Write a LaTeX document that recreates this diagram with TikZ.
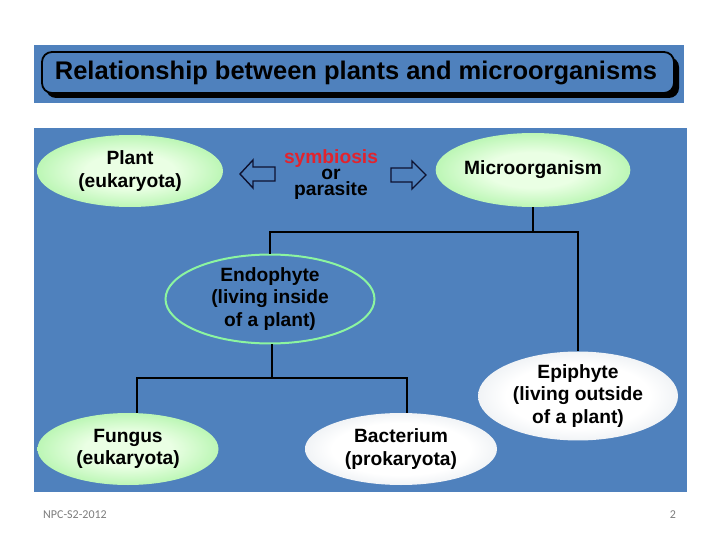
\documentclass[tikz,border=0pt]{standalone}
\usepackage{fontspec}
\setmainfont{Liberation Sans}
\newfontfamily\footfont{Carlito}
\usepackage{tikz}
\usetikzlibrary{positioning, shapes.geometric, shadings}
\definecolor{slide}{RGB}{79, 129, 189}
\definecolor{leafin}{RGB}{234, 255, 228}
\definecolor{leafout}{RGB}{100, 230, 92}
\definecolor{cloudin}{RGB}{255, 255, 255}
\definecolor{cloudout}{RGB}{190, 202, 214}
\definecolor{rimgreen}{RGB}{140, 245, 160}
\definecolor{hint}{RGB}{226, 35, 45}
\definecolor{navy}{RGB}{14, 18, 48}
\definecolor{footgrey}{RGB}{125, 125, 125}
\pgfdeclareradialshading{leafglow}{\pgfpoint{0bp}{0bp}}{color(0bp)=(leafin); color(12bp)=(leafin); color(50bp)=(leafout); color(100bp)=(leafout)}
\pgfdeclareradialshading{cloudglow}{\pgfpoint{0bp}{0bp}}{color(0bp)=(cloudin); color(18bp)=(cloudin); color(50bp)=(cloudout); color(100bp)=(cloudout)}

\begin{document}
\begin{tikzpicture}[
      x=1pt, y=-1pt,
      every node/.style={font=\bfseries\fontsize{19.2}{22.5}\selectfont, text=black, align=center},
      leaf/.style={ellipse, shading=leafglow, inner sep=0pt},
      cloud/.style={ellipse, shading=cloudglow, inner sep=0pt},
      rim/.style={ellipse, draw=rimgreen, line width=2pt, inner sep=0pt},
      hollowarrow/.style={draw=navy, fill=slide, line width=1.4pt, line join=miter},
      link/.style={draw=black, line width=1.8pt, line join=miter},
      footnote/.style={font=\footfont\fontsize{12}{14}\selectfont, text=footgrey}
    ]
      \useasboundingbox (0,0) rectangle (720,540);
      \fill[white] (0,0) rectangle (720,540);

      % Title band
      \fill[slide] (34,45) rectangle (684,103);
      \fill[black, rounded corners=10pt] (46,57) rectangle (679,98);
      \draw[black, fill=slide, line width=1.8pt, rounded corners=10pt] (42,52) rectangle (674,93);
      \node[font=\bfseries\fontsize{25.5}{29}\selectfont] (title) at (356,73) {Relationship between plants and microorganisms};

      % Panel
      \fill[slide] (34,128) rectangle (687,492);

      % Nodes
      \node[leaf, minimum width=186pt, minimum height=72pt] (plant) at (130,171) {Plant\\(eukaryota)};
      \node[leaf, minimum width=188pt, minimum height=74pt] (micro) at (533,170) {Microorganism};
      \node[font=\bfseries\fontsize{19.2}{16}\selectfont] (relation) at (331,175) {\textcolor{hint}{symbiosis}\\or\\parasite};
      \node[rim, minimum width=209pt, minimum height=80pt] (endo) at (270,299) {Endophyte\\(living inside\\of a plant)};
      \node[cloud, minimum width=200pt, minimum height=82pt] (epi) at (578,396) {Epiphyte\\(living outside\\of a plant)};
      \node[leaf, minimum width=181pt, minimum height=72pt] (fungus) at (128,449) {Fungus\\(eukaryota)};
      \node[cloud, minimum width=192pt, minimum height=72pt] (bact) at (401,449) {Bacterium\\(prokaryota)};

      % Hollow arrows
      \coordinate (lefttip) at (240,174);
      \coordinate (righttip) at (426,175);
      \draw[hollowarrow] (lefttip) -- ++(13,-14) -- ++(0,7) -- ++(22,0) -- ++(0,14) -- ++(-22,0) -- ++(0,7) -- cycle;
      \draw[hollowarrow] (righttip) -- ++(-14,-14) -- ++(0,7) -- ++(-21,0) -- ++(0,14) -- ++(21,0) -- ++(0,7) -- cycle;

      % Edges
      \coordinate (upperbar) at (533,232);
      \coordinate (lowerbar) at (272,378);
      \coordinate (fungusdrop) at (137,378);
      \coordinate (bactdrop) at (407,378);
      \draw[link] (micro.south) -- (upperbar);
      \draw[link] (endo.north) |- (epi.north |- upperbar) -- (epi.north);
      \draw[link] (endo.south -| lowerbar) -- (lowerbar);
      \draw[link] (fungus.north -| fungusdrop) -- (fungusdrop) -- (bactdrop) -- (bactdrop |- bact.north);

      % Footer
      \node[footnote] (footer) at (75,515) {NPC-S2-2012};
      \node[footnote] (pageno) at (673,515) {2};
    \end{tikzpicture}
\end{document}
